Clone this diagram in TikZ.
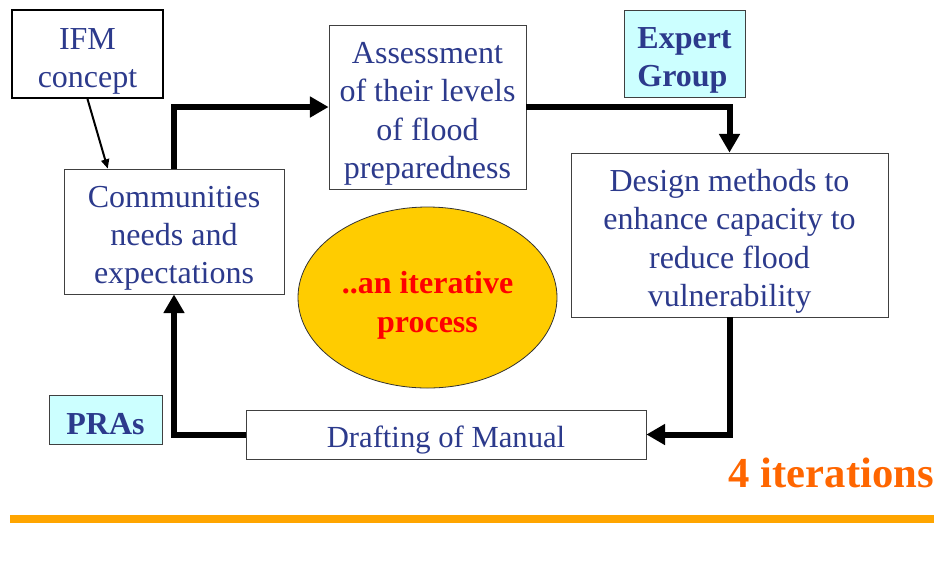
\documentclass[tikz,border=0pt]{standalone}
\usepackage{fontspec}
\setmainfont{Liberation Serif}
\usetikzlibrary{arrows.meta,calc,shapes.geometric}
\definecolor{textblue}{RGB}{44,58,140}
\definecolor{paleCyan}{RGB}{204,255,255}
\definecolor{discGold}{RGB}{255,204,0}
\definecolor{iterOrange}{RGB}{255,102,0}
\definecolor{barOrange}{RGB}{255,165,0}
\def\px{0.75pt}
\newcommand{\toppad}[1]{\rule{0pt}{#1}}
\tikzset{
	box/.style={draw=black!75, line width=0.6pt, fill=white, text=textblue, align=center, inner sep=0pt, font=\fontsize{24}{28.8}\selectfont},
	tag/.style={box, fill=paleCyan, align=left, font=\fontsize{24}{28.8}\selectfont\bfseries},
	loop/.style={line width=4.5pt, -{Triangle[length=14pt,width=15pt]}},
	pointer/.style={line width=1.5pt, -{Triangle[length=7pt,width=6pt]}},
}

\begin{document}
\begin{tikzpicture}[x=0.75pt, y=-0.75pt]
		%%%%% START %%%%%
		\useasboundingbox (0, 0) rectangle (942, 569);
		
		\node[box, draw=black, line width=1.5pt, minimum width=151*\px, minimum height=88*\px] (ifm) at (87.5, 54) {\toppad{26.5pt}IFM\\concept};
		\node[box, minimum width=220*\px, minimum height=125*\px] (comm) at (174, 231.5) {\toppad{26pt}Communities\\needs and\\expectations};
		\node[box, minimum width=197*\px, minimum height=164*\px] (assess) at (427.5, 107) {\toppad{26pt}Assessment\\of their levels\\of flood\\preparedness};
		\node[box, minimum width=317*\px, minimum height=164*\px] (design) at (729.5, 235) {\toppad{26pt}Design methods to\\enhance capacity to\\reduce flood\\vulnerability};
		\node[box, minimum width=400*\px, minimum height=49*\px, font=\fontsize{23}{27.6}\selectfont] (draft) at (446, 434.5) {\toppad{24.5pt}Drafting of Manual};
		
		\node[tag, minimum width=121*\px, minimum height=87*\px] (expert) at (684.5, 53.5) {\toppad{26.5pt}Expert\\Group};
		\node[tag, minimum width=113*\px, minimum height=49*\px] (pras) at (105.5, 419.5) {\toppad{22.5pt}PRAs};
		
		\node[ellipse, draw=black!80, line width=0.6pt, fill=discGold, inner sep=0pt, minimum width=259*\px, minimum height=181*\px, text=red, align=center, font=\fontsize{24}{28.8}\selectfont\bfseries] (iter) at (427.5, 297.5) {\toppad{28.5pt}..an iterative\\process};
		
		\draw[loop] (comm.north) |- (assess.west);
		\draw[loop] (assess.east) -| (design.north);
		\draw[loop] (design.south) |- (draft.east);
		\draw[loop] (draft.west) -| (comm.south);
		
		\draw[pointer] (ifm.south) -- ($(comm.north west)!0.2!(comm.north east)$);
		
		\node[anchor=base east, inner sep=0pt, text=iterOrange, font=\fontsize{32}{38}\selectfont\bfseries] (count) at (934, 487) {4 iterations};
		
		\draw[line width=8*\px, color=barOrange] (10, 519) -- (934, 519);
		
		%%%%% END %%%%%
\end{tikzpicture}
\end{document}
